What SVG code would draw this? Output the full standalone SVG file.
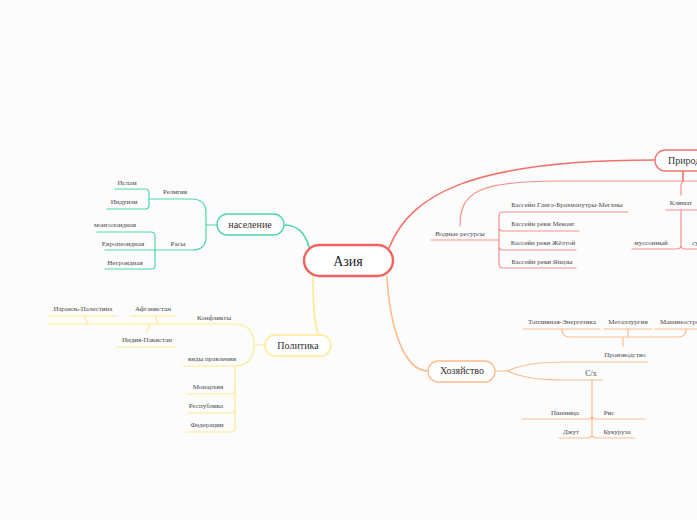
<svg xmlns="http://www.w3.org/2000/svg" width="697" height="520" viewBox="0 0 697 520">
<style>
text{font-family:"Liberation Serif","Times New Roman",serif;fill:#4a4a4a;text-anchor:middle}
.s{font-size:7px}
.n{font-size:10px;fill:#333}
.c{fill:none;stroke-linecap:round;stroke-linejoin:round}
.g{stroke:#4cd6a3}
.y{stroke:#fcea90}
.o{stroke:#fdbb8c}
.r{stroke:#f4716b}
.rl{stroke:#f7908c}
.m{stroke-width:1.6}
.l{stroke-width:1.2}
.box{fill:#fff;stroke-width:1.3}
</style>
<rect width="697" height="520" fill="#fcfcfd"/>
<g id="connectors">
<path class="c g m" d="M309,247 C305,232 297,225 284,225"/>
<path class="c y m" d="M313,277 C313,320 316,346 331,346"/>
<path class="c o m" d="M387,277 C390,330 405,371 428,371"/>
<path class="c r m" d="M389,248 C410,195 470,160 655,160"/>
</g>
<g id="naselenie">
<path class="c g l" d="M217,225 H206 M206,225 V213 Q206,199 192,199 H150 M206,225 V237 Q206,250 192,250 H105"/>
<path class="c g l" d="M115,189 H145 Q149,189 149,193 V205 Q149,209 145,209 H107"/>
<path class="c g l" d="M97,232 H151 Q155,232 155,236 V265 Q155,269 151,269 H105"/>
<rect class="box g" x="217" y="214" width="67" height="21" rx="10.5"/>
<text class="n" x="250" y="228">население</text>
<text class="s" x="175" y="194">Религия</text>
<text class="s" x="127" y="185">Ислам</text>
<text class="s" x="124" y="204">Индуизм</text>
<text class="s" x="178" y="246">Расы</text>
<text class="s" x="115" y="227">монголоидная</text>
<text class="s" x="123" y="246">Европеоидная</text>
<text class="s" x="125" y="265">Негроидная</text>
</g>
<g id="politika">
<path class="c y l" d="M265,345 H254 M254,345 Q254,324 233,324 H48 M254,345 Q254,366 233,366 H183"/>
<path class="c y l" d="M48,316 H117 M84,316 L88,324 M131,316 H175 M155,316 L158,324 M117,347 H175 M146,332 L150,325"/>
<path class="c y l" d="M235,366 V428 Q235,432 231,432 H186 M188,394 H231 Q235,394 235,390 M188,413 H231 Q235,413 235,409"/>
<rect class="box y" x="265" y="335" width="66" height="21" rx="10.5"/>
<text class="n" x="298" y="349">Политика</text>
<text class="s" x="214" y="320">Конфликты</text>
<text class="s" x="83" y="311">Израиль-Палестина</text>
<text class="s" x="153" y="311">Афганистан</text>
<text class="s" x="147" y="342">Индия-Пакистан</text>
<text class="s" x="212" y="361">виды правления</text>
<text class="s" x="208" y="389">Монархия</text>
<text class="s" x="206" y="408">Республика</text>
<text class="s" x="207" y="427">Федерации</text>
</g>
<g id="hozyaistvo">
<path class="c o l" d="M495,371 H507 M507,371 C525,363 545,362 570,362 H648 M507,371 C525,379 545,380 570,380 H602"/>
<path class="c o l" d="M623,346 V337 M562,329 Q562,337 570,337 H678 Q686,337 686,329 M628,329 V337"/>
<path class="c o l" d="M523,329 H600 M604,329 H652 M655,329 H697"/>
<path class="c o l" d="M592,380 V434 M522,419 H588 Q592,419 592,415 M592,415 Q592,419 596,419 H645 M559,438 H588 Q592,438 592,434 M592,434 Q592,438 596,438 H635"/>
<rect class="box o" x="428" y="361" width="67" height="21" rx="10.5"/>
<text class="n" x="462" y="374">Хозяйство</text>
<text class="s" x="562" y="324">Топливная-Энергетика</text>
<text class="s" x="628" y="324">Металлургия</text>
<text class="s" x="660" y="324" style="text-anchor:start">Машиностроение</text>
<text class="s" x="625" y="357">Производство</text>
<text class="s" x="591" y="376" style="font-size:8px">С/х</text>
<text class="s" x="565" y="415">Пшеница</text>
<text class="s" x="609" y="415">Рис</text>
<text class="s" x="571" y="434">Джут</text>
<text class="s" x="617" y="434">Кукуруза</text>
</g>
<g id="priroda">
<path class="c r m" d="M683,171 V181"/>
<path class="c rl l" d="M460,226 C460,192 478,181 560,181 H697 M686,181 Q681,181 681,186 V195"/>
<path class="c rl l" d="M666,210 H697 M681,210 V245 Q681,249 677,249 H632 M681,245 Q681,249 685,249 H697"/>
<path class="c rl l" d="M431,240 H499 M628,212 H503 Q499,212 499,216 V264 Q499,268 503,268 H576 M499,227 Q499,231 503,231 H579 M499,246 Q499,250 503,250 H576"/>
<rect class="box r" x="655" y="150" width="100" height="21" rx="10.5"/>
<text class="n" x="668" y="164" style="text-anchor:start">Природа</text>
<text class="s" x="681" y="205">Климат</text>
<text class="s" x="651" y="245">муссонный</text>
<text class="s" x="692" y="245" style="text-anchor:start">субтропический</text>
<text class="s" x="460" y="236">Водные ресурсы</text>
<text class="s" x="567" y="207">Бассейн Ганга-Брахмапутры-Мегхны</text>
<text class="s" x="543" y="226">Бассейн реки Меконг</text>
<text class="s" x="543" y="245">Бассейн реки Жёлтой</text>
<text class="s" x="542" y="264">Бассейн реки Янцзы</text>
</g>
<g id="aziya">
<rect x="304" y="245" width="89" height="31" rx="15.5" fill="#fff" stroke="#f4625e" stroke-width="2.4"/>
<text x="348" y="266" style="font-size:14px;fill:#222">Азия</text>
</g>
</svg>
